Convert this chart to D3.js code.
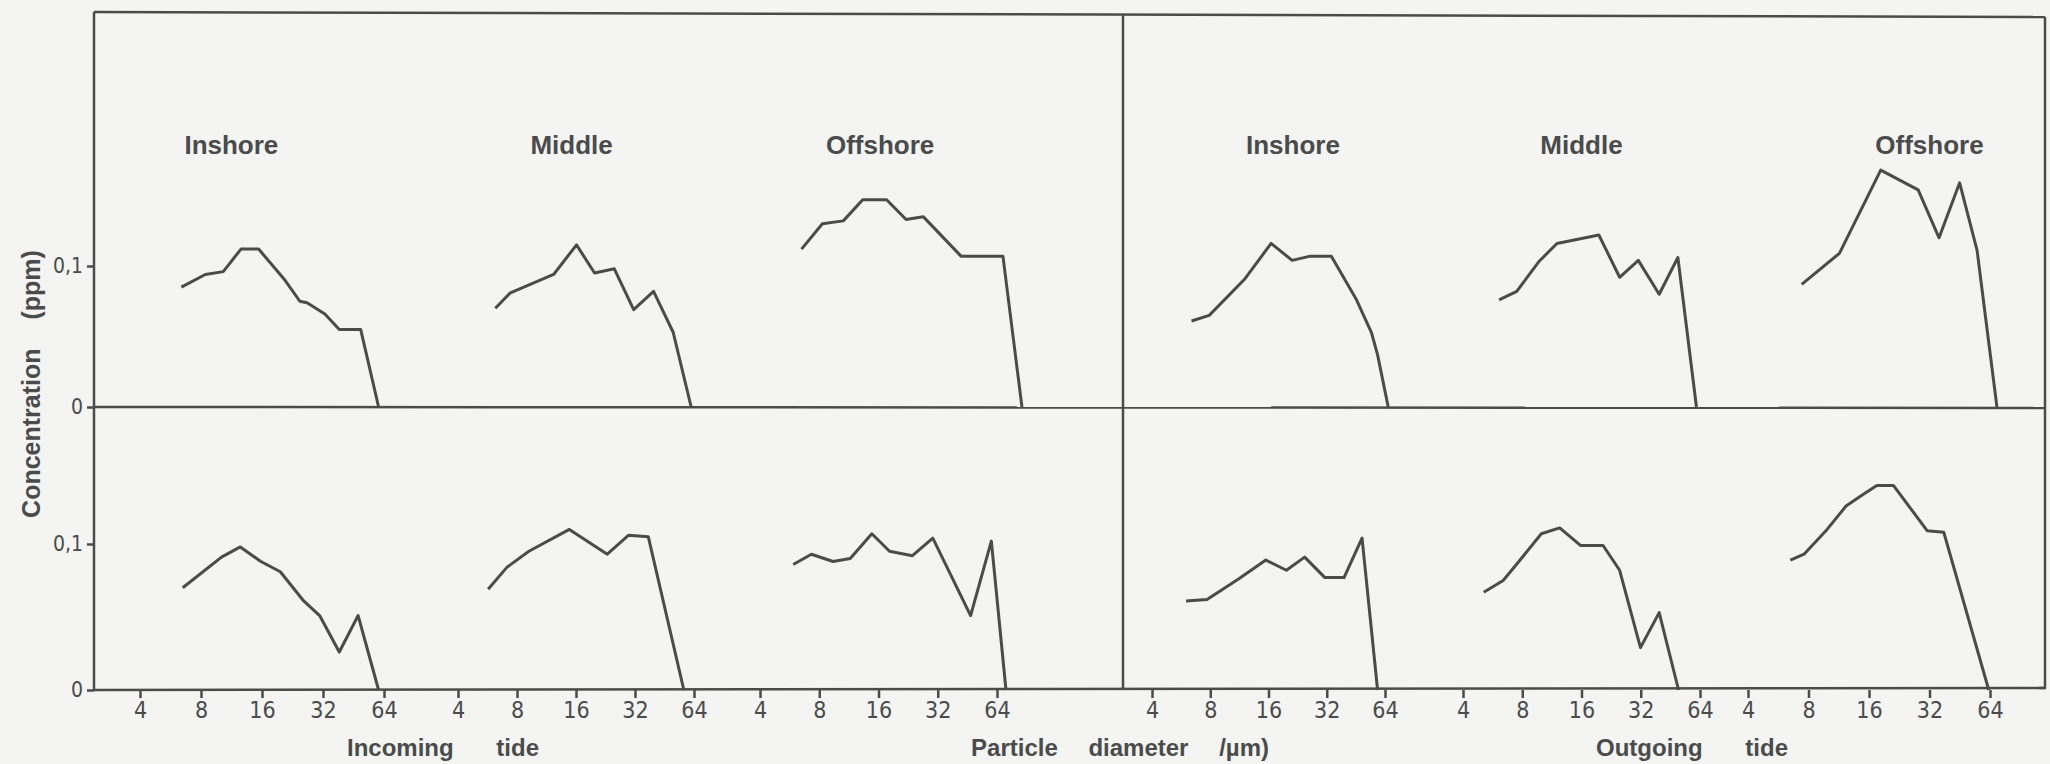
<!DOCTYPE html>
<html>
<head>
<meta charset="utf-8">
<script src="https://cdnjs.cloudflare.com/ajax/libs/d3/7.8.5/d3.min.js"></script>
<style>
  body { margin: 0; background: #f4f4f2; }
  svg { display: block; }
  text { font-family: "Liberation Sans", Arial, sans-serif; fill: #4b4b4b; }
</style>
</head>
<body>
<svg id="chart" width="2050" height="764"></svg>
<script>
// [particle diameter (um), concentration (ppm)]
var inInshoreUpper = [[6.4,0.085],[8.4,0.094],[10.3,0.096],[12.6,0.112],[15.4,0.112],[20.5,0.091],[24.6,0.075],[26.7,0.074],[32.7,0.066],[38.5,0.055],[49.1,0.055],[60.2,0]];
var inMiddleUpper = [[6.2,0.070],[7.4,0.081],[12.3,0.094],[16.1,0.115],[19.9,0.095],[25.1,0.098],[31.5,0.069],[39.8,0.082],[50.1,0.053],[61.9,0]];
var inOffshoreUpper = [[6.5,0.112],[8.3,0.130],[10.6,0.132],[13.3,0.147],[17.6,0.147],[22.1,0.133],[27.0,0.135],[42.0,0.107],[68.6,0.107],[85.7,0]];
var outInshoreUpper = [[6.4,0.061],[7.9,0.065],[12.1,0.091],[16.5,0.116],[21.2,0.104],[26.3,0.107],[33.8,0.107],[45.6,0.076],[54.4,0.053],[58.6,0.037],[66.5,0]];
var outMiddleUpper = [[6.1,0.076],[7.5,0.082],[9.7,0.103],[12.0,0.116],[19.6,0.122],[25.0,0.092],[31.1,0.104],[39.7,0.080],[49.4,0.106],[61.4,0]];
var outOffshoreUpper = [[7.4,0.087],[11.4,0.109],[18.3,0.168],[28.1,0.154],[35.7,0.120],[45.2,0.159],[55.2,0.111],[69.3,0]];

var inInshoreLower = [[6.5,0.070],[10.1,0.091],[12.5,0.098],[15.8,0.088],[19.7,0.081],[25.7,0.061],[30.8,0.051],[38.5,0.026],[47.7,0.051],[60.2,0]];
var inMiddleLower = [[5.7,0.069],[7.1,0.084],[9.2,0.095],[14.8,0.110],[23.1,0.093],[29.7,0.106],[37.4,0.105],[56.8,0]];
var inOffshoreLower = [[5.9,0.086],[7.3,0.093],[9.4,0.088],[11.5,0.090],[14.8,0.107],[18.2,0.095],[23.8,0.092],[30.2,0.104],[47.0,0.051],[59.9,0.102],[71.1,0]];
var outInshoreLower = [[6.0,0.061],[7.7,0.062],[11.2,0.076],[15.5,0.089],[19.8,0.082],[24.6,0.091],[31.3,0.077],[39.3,0.077],[48.7,0.104],[58.6,0]];
var outMiddleLower = [[5.1,0.067],[6.4,0.075],[7.8,0.089],[10.0,0.107],[12.4,0.111],[15.8,0.099],[20.6,0.099],[25.0,0.082],[31.9,0.029],[39.7,0.053],[49.8,0]];
var outOffshoreLower = [[6.5,0.089],[7.6,0.093],[9.9,0.110],[12.3,0.126],[15.0,0.134],[17.5,0.140],[21.2,0.140],[31.2,0.109],[37.7,0.108],[63.1,0]];

var stations = ["Inshore", "Middle", "Offshore", "Inshore", "Middle", "Offshore"];
var tides = ["Incoming", "Outgoing"];
var sizeTicks = [4, 8, 16, 32, 64];
var concTicks = [0, 0.1];
var concLabels = ["0", "0,1"];
var xTitle = "Particle diameter /\u00b5m)";
var yTitle = "Concentration (ppm)";

var upperRow = [inInshoreUpper, inMiddleUpper, inOffshoreUpper, outInshoreUpper, outMiddleUpper, outOffshoreUpper];
var lowerRow = [inInshoreLower, inMiddleLower, inOffshoreLower, outInshoreLower, outMiddleLower, outOffshoreLower];

// layout
var ink = "#4b4b4b";
var LEFT = 94, RIGHT = 2045, TOP = 12, DIVIDER = 1123;
var panelRange = [[140,384],[458,694],[760,997],[1152,1385],[1463,1700],[1748,1990]];
var labelAt = [11.3, 15.2, 16.3, 21.4, 16, 32];

var yUpper = d3.scaleLinear().domain([0, 0.1]).range([407, 266]);
var yLower = d3.scaleLinear().domain([0, 0.1]).range([690, 544]);

var svg = d3.select("#chart");

// frame
var frame = svg.append("g").attr("stroke", ink).attr("stroke-width", 2.5).attr("fill", "none");
frame.append("line").attr("x1", LEFT).attr("y1", TOP).attr("x2", RIGHT).attr("y2", TOP + 5);
frame.append("line").attr("x1", LEFT).attr("y1", TOP).attr("x2", LEFT).attr("y2", yLower(0));
frame.append("line").attr("x1", DIVIDER).attr("y1", TOP + 2).attr("x2", DIVIDER).attr("y2", yLower(0));
frame.append("path").attr("d", "M" + RIGHT + "," + (TOP + 5) + "V" + (yLower(0) - 2) + "h-6");
frame.append("line").attr("x1", LEFT).attr("y1", yUpper(0)).attr("x2", RIGHT).attr("y2", yUpper(0) + 1);
frame.append("line").attr("x1", LEFT).attr("y1", yLower(0)).attr("x2", RIGHT).attr("y2", yLower(0) - 2);

// left axes
[yUpper, yLower].forEach(function(y) {
  var g = svg.append("g").attr("transform", "translate(" + LEFT + ",0)")
    .call(d3.axisLeft(y).tickValues(concTicks).tickSize(7).tickPadding(4)
      .tickFormat(function(d, i) { return concLabels[i]; }));
  g.select(".domain").remove();
  g.selectAll("line").attr("stroke", ink).attr("stroke-width", 2.5);
  g.selectAll("text").style("font-family", "'DejaVu Sans Condensed', sans-serif")
    .style("font-size", "21px").attr("fill", ink);
});

var line = function(x, y) {
  return d3.line().x(function(d) { return x(d[0]); }).y(function(d) { return y(d[1]); });
};

panelRange.forEach(function(r, i) {
  var x = d3.scaleLog().base(2).domain([4, 64]).range(r);

  var ax = svg.append("g").attr("transform", "translate(0," + yLower(0) + ")")
    .call(d3.axisBottom(x).tickValues(sizeTicks).tickSize(8).tickPadding(4)
      .tickFormat(d3.format("d")));
  ax.select(".domain").remove();
  ax.selectAll("line").attr("stroke", ink).attr("stroke-width", 2.5);
  ax.selectAll("text").style("font-family", "'DejaVu Sans Condensed', sans-serif")
    .style("font-size", "23px").attr("fill", ink);

  svg.append("path").attr("d", line(x, yUpper)(upperRow[i]))
    .attr("fill", "none").attr("stroke", ink).attr("stroke-width", 3).attr("stroke-linejoin", "round");
  svg.append("path").attr("d", line(x, yLower)(lowerRow[i]))
    .attr("fill", "none").attr("stroke", ink).attr("stroke-width", 3).attr("stroke-linejoin", "round");

  svg.append("text").attr("x", x(labelAt[i])).attr("y", 154)
    .attr("text-anchor", "middle").style("font-size", "26px").style("font-weight", "bold")
    .text(stations[i]);
});

// titles
svg.append("text").attr("x", 443).attr("y", 756).attr("text-anchor", "middle")
  .style("font-size", "24px").style("font-weight", "bold").attr("word-spacing", 36)
  .text(tides[0] + " tide");
svg.append("text").attr("x", 1692).attr("y", 756).attr("text-anchor", "middle")
  .style("font-size", "24px").style("font-weight", "bold").attr("word-spacing", 36)
  .text(tides[1] + " tide");
svg.append("text").attr("x", 1120).attr("y", 756).attr("text-anchor", "middle")
  .style("font-size", "24px").style("font-weight", "bold").attr("word-spacing", 24)
  .text(xTitle);
svg.append("text").attr("transform", "translate(40,384) rotate(-90)").attr("text-anchor", "middle")
  .style("font-size", "25px").style("font-weight", "bold").attr("word-spacing", 22)
  .text(yTitle);
</script>
</body>
</html>
